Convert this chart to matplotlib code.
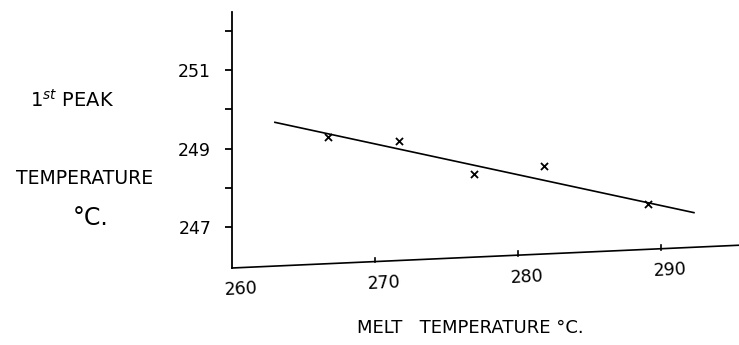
import numpy as np
import matplotlib
matplotlib.use("Agg")
import matplotlib.pyplot as plt

# Data
melt_temp = [266.7, 271.7, 276.9, 281.8, 289.1]
peak_temp = [249.30, 249.19, 248.35, 248.56, 247.59]

# Hand drawn fit line end points
fit_x = [263.0, 292.3]
fit_y = [249.67, 247.37]

# Slanted baseline (x axis as drawn)
base_x = [260.0, 295.45]
base_y = [245.96, 246.54]

x_ticks = [260, 270, 280, 290]
y_ticks = [247, 248, 249, 250, 251, 252]
y_labels = ["247", "", "249", "", "251", ""]

fig = plt.figure(figsize=(7.39, 3.45), dpi=100)
ax = fig.add_axes([232 / 739, 1 - 268 / 345, 507 / 739, 256 / 345])
ax.set_xlim(base_x[0], base_x[1])
ax.set_ylim(245.96, 252.48)

for s in ["top", "right", "bottom"]:
    ax.spines[s].set_visible(False)
ax.spines["left"].set_linewidth(1.3)

ax.set_xticks([])
ax.set_yticks(y_ticks)
ax.set_yticklabels(y_labels, fontsize=12.5)
ax.tick_params(axis="y", direction="out", length=5, width=1.3, pad=10)

# Baseline and its ticks
ax.plot(base_x, base_y, color="black", lw=1.2, clip_on=False)
tick_base = np.interp(x_ticks, base_x, base_y)
for xt, yb in zip(x_ticks, tick_base):
    if xt != 260:
        ax.plot([xt, xt], [yb - 0.02, yb + 0.1], color="black", lw=1.2, clip_on=False)
    ax.text(xt + 0.6, yb - 0.55, str(xt), ha="center", va="center",
            fontsize=12.5, rotation=3, clip_on=False)

# Fit line and points
ax.plot(fit_x, fit_y, color="black", lw=1.2)
ax.scatter(melt_temp, peak_temp, marker="x", color="black", s=26, linewidths=1.3)

# Labels
fig.text(72 / 739, 1 - 100 / 345, "1$^{st}$ PEAK", ha="center", va="center", fontsize=14)
fig.text(85 / 739, 1 - 178 / 345, "TEMPERATURE", ha="center", va="center", fontsize=13.5)
fig.text(91 / 739, 1 - 218 / 345, "°C.", ha="center", va="center", fontsize=17)
fig.text(470 / 739, 1 - 328 / 345, "MELT   TEMPERATURE °C.", ha="center", va="center", fontsize=13)

fig.savefig("out.png", dpi=100)
